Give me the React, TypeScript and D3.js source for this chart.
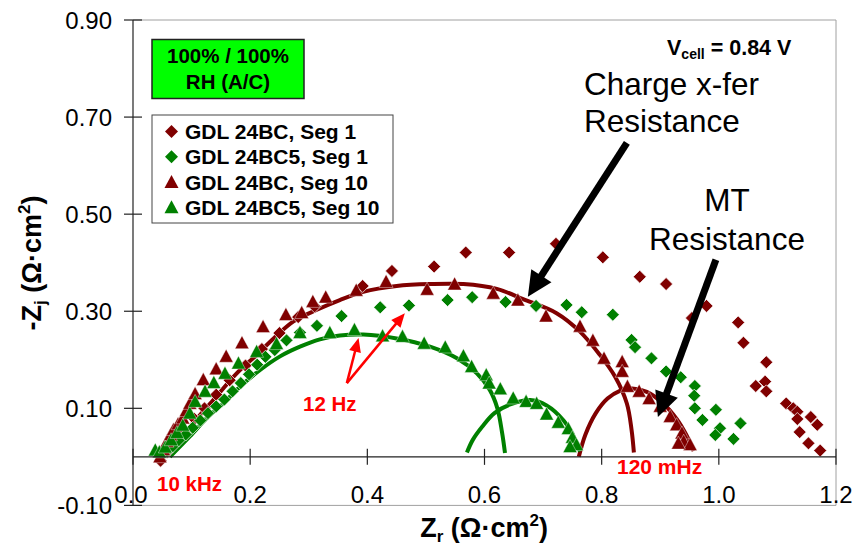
import React from "react";
import * as d3 from "d3";

// ---- data (Zr, -Zj) in Ω·cm² ----
const seg1_24BC: [number, number][] = [
  [0.047, -0.008], [0.058, 0.010], [0.072, 0.030], [0.088, 0.052], [0.105, 0.078], [0.122, 0.100],
  [0.142, 0.128], [0.165, 0.158], [0.192, 0.188], [0.220, 0.222], [0.250, 0.255], [0.282, 0.288],
  [0.310, 0.310], [0.392, 0.352], [0.442, 0.383], [0.514, 0.392], [0.568, 0.421], [0.642, 0.421],
  [0.722, 0.439], [0.802, 0.411], [0.865, 0.371], [0.910, 0.356], [0.954, 0.286], [0.979, 0.311],
  [1.033, 0.277], [1.042, 0.235], [1.081, 0.195], [1.079, 0.155], [1.063, 0.146], [1.081, 0.135],
  [1.115, 0.110], [1.127, 0.100], [1.134, 0.093], [1.134, 0.078], [1.157, 0.082], [1.168, 0.066],
  [1.138, 0.051], [1.153, 0.028], [1.173, 0.013],
];
const seg1_24BC5: [number, number][] = [
  [0.048, 0.002], [0.058, 0.012], [0.068, 0.022], [0.078, 0.034], [0.090, 0.046], [0.102, 0.060],
  [0.115, 0.075], [0.128, 0.090], [0.142, 0.104], [0.156, 0.118], [0.170, 0.135], [0.184, 0.152],
  [0.198, 0.170], [0.212, 0.190], [0.226, 0.206], [0.242, 0.220], [0.262, 0.240], [0.285, 0.256],
  [0.314, 0.270], [0.356, 0.290], [0.422, 0.308], [0.471, 0.312], [0.537, 0.323], [0.579, 0.329],
  [0.636, 0.319], [0.688, 0.311], [0.740, 0.313], [0.766, 0.298], [0.819, 0.293], [0.851, 0.241],
  [0.857, 0.226], [0.885, 0.203], [0.910, 0.176], [0.935, 0.164], [0.959, 0.146], [0.958, 0.126],
  [0.959, 0.100], [0.995, 0.097], [0.972, 0.076], [1.002, 0.059], [0.994, 0.045], [1.037, 0.069],
  [1.025, 0.037],
];
const seg10_24BC: [number, number][] = [
  [0.046, 0.000], [0.052, 0.015], [0.058, 0.032], [0.064, 0.045], [0.069, 0.056], [0.077, 0.068],
  [0.085, 0.080], [0.091, 0.095], [0.097, 0.110], [0.106, 0.130], [0.120, 0.159], [0.142, 0.181],
  [0.159, 0.207], [0.186, 0.235], [0.222, 0.268], [0.261, 0.293], [0.288, 0.297], [0.307, 0.320],
  [0.329, 0.329], [0.381, 0.343], [0.432, 0.361], [0.502, 0.345], [0.549, 0.356], [0.615, 0.337],
  [0.657, 0.323], [0.705, 0.290], [0.763, 0.269], [0.785, 0.240], [0.804, 0.203], [0.835, 0.196],
  [0.835, 0.176], [0.844, 0.145], [0.864, 0.135], [0.881, 0.120], [0.900, 0.104], [0.917, 0.083],
  [0.928, 0.066], [0.937, 0.049], [0.940, 0.032], [0.951, 0.025], [0.931, 0.028],
];
const seg10_24BC5: [number, number][] = [
  [0.038, 0.014], [0.045, 0.010], [0.055, 0.020], [0.065, 0.035], [0.075, 0.050], [0.085, 0.065],
  [0.097, 0.090], [0.106, 0.114], [0.123, 0.135], [0.138, 0.153], [0.157, 0.172], [0.180, 0.193],
  [0.211, 0.217], [0.245, 0.233], [0.285, 0.256], [0.336, 0.256], [0.378, 0.262], [0.426, 0.249],
  [0.460, 0.248], [0.497, 0.234], [0.533, 0.226], [0.564, 0.208], [0.578, 0.186], [0.603, 0.169],
  [0.608, 0.152], [0.627, 0.140], [0.649, 0.121], [0.671, 0.114], [0.689, 0.110], [0.706, 0.088],
  [0.726, 0.071], [0.743, 0.058], [0.750, 0.040], [0.757, 0.025], [0.746, 0.021],
];

// fitted curves
const fitRedMain: [number, number][] = [
  [0.055, 0.0], [0.097, 0.062], [0.137, 0.117], [0.177, 0.172], [0.211, 0.210], [0.240, 0.244],
  [0.274, 0.279], [0.314, 0.303], [0.353, 0.323], [0.393, 0.340], [0.450, 0.352], [0.507, 0.356],
  [0.564, 0.356], [0.621, 0.346], [0.666, 0.325], [0.723, 0.296], [0.763, 0.258], [0.797, 0.210],
  [0.823, 0.165], [0.843, 0.110], [0.851, 0.056], [0.855, 0.009],
];
const fitGreenMain: [number, number][] = [
  [0.063, 0.0], [0.097, 0.042], [0.126, 0.080], [0.154, 0.110], [0.183, 0.145], [0.217, 0.179],
  [0.251, 0.207], [0.285, 0.227], [0.319, 0.242], [0.353, 0.250], [0.393, 0.252], [0.450, 0.244],
  [0.507, 0.227], [0.553, 0.203], [0.587, 0.172], [0.609, 0.138], [0.622, 0.100], [0.630, 0.050],
  [0.635, 0.008],
];
const fitGreenMT: [number, number][] = [
  [0.570, 0.009], [0.580, 0.035], [0.596, 0.062], [0.617, 0.090], [0.644, 0.108], [0.678, 0.117],
  [0.706, 0.106], [0.735, 0.075], [0.752, 0.042], [0.763, 0.011],
];
const fitRedMT: [number, number][] = [
  [0.761, 0.0], [0.772, 0.045], [0.790, 0.090], [0.810, 0.120], [0.831, 0.136], [0.852, 0.141],
  [0.877, 0.134], [0.905, 0.110], [0.928, 0.078], [0.945, 0.044], [0.957, 0.012],
];

const xTicks = [0, 0.2, 0.4, 0.6, 0.8, 1.0, 1.2];
const xTickLabels = ["0.0", "0.2", "0.4", "0.6", "0.8", "1.0", "1.2"];
const yTicks = [-0.1, 0.1, 0.3, 0.5, 0.7, 0.9];
const yTickLabels = ["-0.10", "0.10", "0.30", "0.50", "0.70", "0.90"];

const legendLabels = ["GDL 24BC, Seg 1", "GDL 24BC5, Seg 1", "GDL 24BC, Seg 10", "GDL 24BC5, Seg 10"];

// annotation arrows in data units: [from, to]
const chargeArrow: [number, number][] = [[0.843, 0.647], [0.674, 0.330]];
const mtArrow: [number, number][] = [[0.995, 0.406], [0.896, 0.082]];
const hzArrowBase: [number, number] = [0.365, 0.152];
const hzArrowTips: [number, number][] = [[0.385, 0.245], [0.464, 0.296]];

const RED = "#800000";
const GREEN = "#008000";
const FONT = "'Liberation Sans', Arial, Helvetica, sans-serif";

const diamond = (r: number) => `M0,${-r}L${r},0L0,${r}L${-r},0Z`;
const triangle = (w: number, h: number) => `M0,${-h * 0.55}L${w / 2},${h * 0.45}L${-w / 2},${h * 0.45}Z`;

function Arrow({ a, b, w, L, H, color }: { a: [number, number]; b: [number, number]; w: number; L: number; H: number; color: string }) {
  const dx = b[0] - a[0];
  const dy = b[1] - a[1];
  const len = Math.hypot(dx, dy);
  const ux = dx / len, uy = dy / len;
  const px = -uy, py = ux;
  const bx = b[0] - ux * L, by = b[1] - uy * L;
  const pts = [[b[0], b[1]], [bx + px * H, by + py * H], [bx - px * H, by - py * H]];
  return (
    <g>
      <line x1={a[0]} y1={a[1]} x2={bx + ux * 2} y2={by + uy * 2} stroke={color} strokeWidth={w} />
      <polygon points={pts.map((p) => p.join(",")).join(" ")} fill={color} />
    </g>
  );
}

export default function App() {
  const W = 865, H = 546;
  const x = d3.scaleLinear().domain([0, 1.2]).range([133, 836]);
  const y = d3.scaleLinear().domain([-0.1, 0.9]).range([505.4, 20]);
  const line = d3.line<[number, number]>().x((d) => x(d[0])).y((d) => y(d[1])).curve(d3.curveCatmullRom.alpha(0.5));

  const P = (d: [number, number]): [number, number] => [x(d[0]), y(d[1])];

  const x0 = x(0), x1 = x(1.2), yTop = y(0.9), yBot = y(-0.1), yZero = y(0);

  return (
    <svg width={W} height={H} style={{ position: "absolute", left: 0, top: 0, background: "#fff" }} fontFamily={FONT}>
      <rect x={0} y={0} width={W} height={H} fill="#fff" />
      {/* plot frame */}
      <line x1={x0} y1={yTop} x2={x1} y2={yTop} stroke="#a0a0a0" strokeWidth={1} />
      <line x1={x1} y1={yTop} x2={x1} y2={yBot} stroke="#a0a0a0" strokeWidth={1} />
      <line x1={x0} y1={yBot} x2={x1} y2={yBot} stroke="#a0a0a0" strokeWidth={1} />

      {/* fitted lines */}
      {[fitRedMain, fitRedMT].map((d, i) => (
        <path key={"fr" + i} d={line(d) || ""} fill="none" stroke={RED} strokeWidth={4} />
      ))}
      {[fitGreenMain, fitGreenMT].map((d, i) => (
        <path key={"fg" + i} d={line(d) || ""} fill="none" stroke={GREEN} strokeWidth={4} />
      ))}

      {/* markers */}
      {seg1_24BC.map((d, i) => (
        <path key={"a" + i} d={diamond(6.5)} transform={`translate(${x(d[0])},${y(d[1])})`} fill={RED} stroke="#fff" strokeWidth={0.7} />
      ))}
      {seg1_24BC5.map((d, i) => (
        <path key={"b" + i} d={diamond(6.5)} transform={`translate(${x(d[0])},${y(d[1])})`} fill={GREEN} stroke="#fff" strokeWidth={0.7} />
      ))}
      {seg10_24BC.map((d, i) => (
        <path key={"c" + i} d={triangle(14, 13)} transform={`translate(${x(d[0])},${y(d[1])})`} fill={RED} stroke="#fff" strokeWidth={0.4} />
      ))}
      {seg10_24BC5.map((d, i) => (
        <path key={"e" + i} d={triangle(14, 13)} transform={`translate(${x(d[0])},${y(d[1])})`} fill={GREEN} stroke="#fff" strokeWidth={0.4} />
      ))}

      {/* axes */}
      <line x1={x0} y1={yTop} x2={x0} y2={yBot} stroke="#222" strokeWidth={1.2} />
      <line x1={x0} y1={yZero} x2={x1} y2={yZero} stroke="#222" strokeWidth={1.2} />
      {yTicks.map((t, i) => (
        <g key={"yt" + i}>
          <line x1={x0 - 9} x2={x0 + 9} y1={y(t)} y2={y(t)} stroke="#222" strokeWidth={1.2} />
          <text x={112} y={y(t)} dy="0.36em" textAnchor="end" fontSize={24} fill="#000">{yTickLabels[i]}</text>
        </g>
      ))}
      {xTicks.map((t, i) => (
        <g key={"xt" + i}>
          <line x1={x(t)} x2={x(t)} y1={yZero - 8} y2={yZero + 8} stroke="#222" strokeWidth={1.2} />
          <text x={x(t) - (i === 0 ? 2 : 0)} y={502.5} textAnchor="middle" fontSize={24} fill="#000">{xTickLabels[i]}</text>
        </g>
      ))}

      {/* axis titles */}
      <text x={484} y={537} textAnchor="middle" fontSize={27} fontWeight="bold" fill="#000">
        Z<tspan fontSize={17} dy={5}>r</tspan>
        <tspan dy={-5}> (Ω·cm</tspan>
        <tspan fontSize={17} dy={-11}>2</tspan>
        <tspan dy={11}>)</tspan>
      </text>
      <text transform="translate(41,263) rotate(-90)" textAnchor="middle" fontSize={27} fontWeight="bold" fill="#000">
        -Z<tspan fontSize={17} dy={5}>j</tspan>
        <tspan dy={-5}> (Ω·cm</tspan>
        <tspan fontSize={17} dy={-11}>2</tspan>
        <tspan dy={11}>)</tspan>
      </text>

      {/* RH box */}
      <rect x={152} y={39.5} width={152} height={59} fill="#00ff00" stroke="#222" strokeWidth={1.5} />
      <text x={228} y={62.5} textAnchor="middle" fontSize={20.5} fontWeight="bold" fill="#000">100% / 100%</text>
      <text x={228} y={89} textAnchor="middle" fontSize={20.5} fontWeight="bold" fill="#000">RH (A/C)</text>

      {/* legend */}
      <rect x={152} y={115} width={241} height={108} fill="#fff" stroke="#444" strokeWidth={1} />
      {legendLabels.map((lab, i) => {
        const cy = 131.5 + i * 25.3;
        const col = i % 2 === 0 ? RED : GREEN;
        return (
          <g key={"lg" + i}>
            {i < 2 ? (
              <path d={diamond(6.5)} transform={`translate(171.5,${cy})`} fill={col} />
            ) : (
              <path d={triangle(14, 13)} transform={`translate(171.5,${cy})`} fill={col} />
            )}
            <text x={185} y={cy} dy="0.36em" fontSize={21} fontWeight="bold" fill="#000">{lab}</text>
          </g>
        );
      })}

      {/* Vcell */}
      <text x={667} y={55} fontSize={21.5} fontWeight="bold" fill="#000">
        V<tspan fontSize={14} dy={4}>cell</tspan>
        <tspan dy={-4}> = 0.84 V</tspan>
      </text>

      {/* annotations */}
      <text x={584} y={95} fontSize={31.5} fill="#000">Charge x-fer</text>
      <text x={584} y={132} fontSize={31.5} fill="#000">Resistance</text>
      <text x={727} y={211} textAnchor="middle" fontSize={31.5} fill="#000">MT</text>
      <text x={727} y={249.5} textAnchor="middle" fontSize={31.5} fill="#000">Resistance</text>

      <Arrow a={P(chargeArrow[0])} b={P(chargeArrow[1])} w={7} L={25} H={12} color="#000" />
      <Arrow a={P(mtArrow[0])} b={P(mtArrow[1])} w={7} L={25} H={12} color="#000" />
      {hzArrowTips.map((t, i) => (
        <Arrow key={"hz" + i} a={P(hzArrowBase)} b={P(t)} w={2.5} L={14} H={6} color="#ff0000" />
      ))}

      <text x={303} y={410.5} fontSize={20.5} fontWeight="bold" fill="#ff0000">12 Hz</text>
      <text x={157} y={490.5} fontSize={20.5} fontWeight="bold" fill="#ff0000">10 kHz</text>
      <text x={617} y={473.5} fontSize={21} fontWeight="bold" fill="#ff0000">120 mHz</text>
    </svg>
  );
}
